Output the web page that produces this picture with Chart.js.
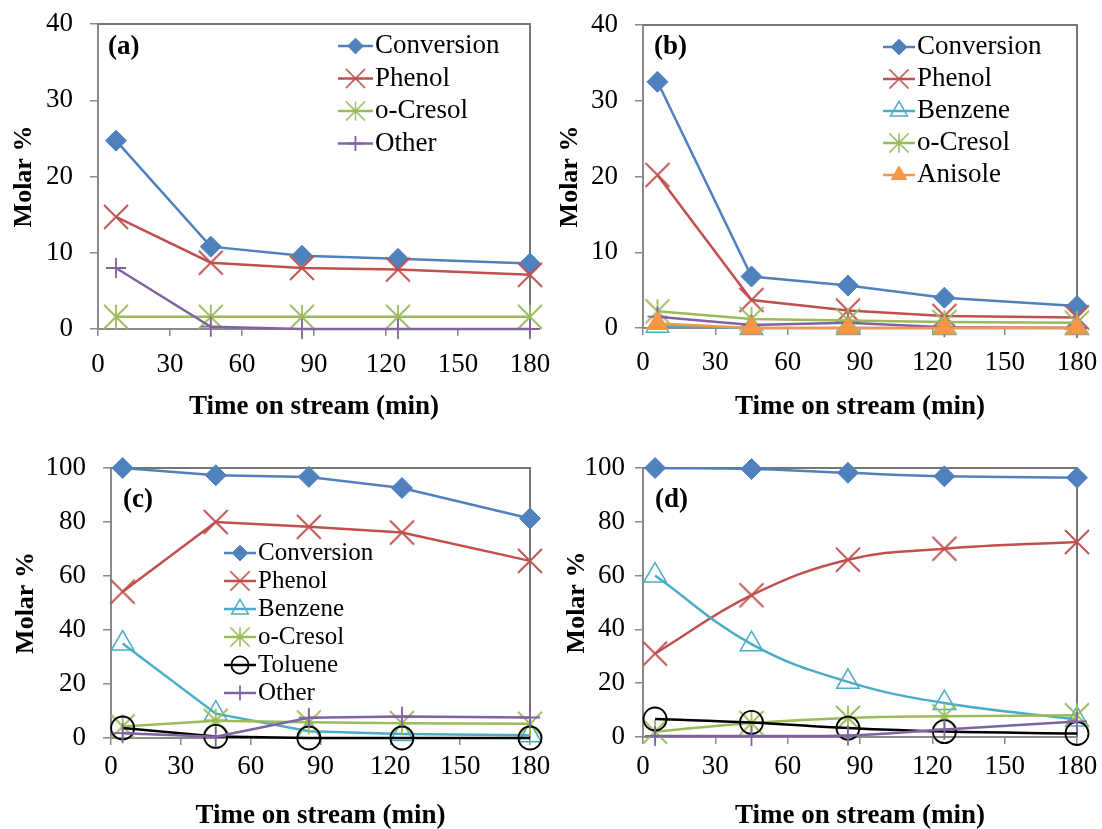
<!DOCTYPE html>
<html>
<head>
<meta charset="utf-8">
<title>Molar % vs time on stream</title>
<script src="https://cdn.jsdelivr.net/npm/chart.js@4.4.1/dist/chart.umd.min.js"></script>
<style>
  html, body { margin: 0; padding: 0; background: #fff; }
  #wrap { position: relative; width: 1102px; height: 829px; overflow: hidden; }
  #wrap canvas { position: absolute; }
</style>
</head>
<body>
<div id="wrap">
  <canvas id="chartA" width="551" height="420" style="left:0;top:0"></canvas>
  <canvas id="chartB" width="551" height="420" style="left:551px;top:0"></canvas>
  <canvas id="chartC" width="551" height="409" style="left:0;top:420px"></canvas>
  <canvas id="chartD" width="551" height="409" style="left:551px;top:420px"></canvas>
</div>
<script>
// ---- data: time on stream (min) and molar % per product ----
const timeA    = [7.5, 47, 85, 125, 180];
const convA    = [24.7, 10.8, 9.6, 9.2, 8.6];
const phenolA  = [14.7, 8.7, 8.0, 7.8, 7.1];
const cresolA  = [1.6, 1.6, 1.6, 1.6, 1.6];
const otherA   = [8.0, 0.3, 0, 0, 0];

const timeB    = [6, 45, 85, 125, 180];
const convB    = [32.5, 6.8, 5.6, 4.0, 2.9];
const phenolB  = [20.2, 3.7, 2.3, 1.6, 1.4];
const benzeneB = [0.3, 0, 0, 0, 0];
const cresolB  = [2.2, 1.2, 1.0, 0.8, 0.7];
const anisoleB = [0.6, 0, 0, 0, 0];
const otherB   = [1.5, 0.4, 0.7, 0.1, 0];

const timeC    = [5, 45, 85, 125, 180];
const convC    = [100, 97.3, 96.7, 92.6, 81.3];
const phenolC  = [54.2, 80.0, 78.2, 76.1, 65.6];
const benzeneC = [35, 9, 2.5, 1.5, 1.0];
const cresolC  = [4.3, 6.4, 5.8, 5.5, 5.3];
const tolueneC = [3.7, 0.6, 0, 0, 0];
const otherC   = [1.8, 0.5, 7.5, 8.0, 7.6];

const timeD    = [5, 45, 85, 125, 180];
const convD    = [100, 99.6, 98.2, 96.9, 96.4];
const phenolD  = [31, 52.7, 65.9, 70, 72.5];
const benzeneD = [60, 34.5, 20.5, 12.6, 6.5];
const cresolD  = [2.0, 5.2, 7.1, 7.7, 8.1];
const tolueneD = [6.7, 5.4, 3.3, 2.0, 1.3];
const otherD   = [0.4, 0.4, 0.6, 2.8, 5.8];

const xTicks = { min: 0, max: 180, step: 30 };

Chart.defaults.font.family = '"Liberation Serif", "Times New Roman", serif';
Chart.defaults.color = '#000';

// X and asterisk markers drawn once into small canvases
function lineMarker(color, half, withBar) {
    const c = document.createElement('canvas');
    const s = Math.ceil(half * 2 + 4);
    c.width = s; c.height = s;
    const g = c.getContext('2d');
    const m = s / 2;
    g.strokeStyle = color;
    g.lineWidth = 1.8;
    g.beginPath();
    g.moveTo(m - half, m - half); g.lineTo(m + half, m + half);
    g.moveTo(m + half, m - half); g.lineTo(m - half, m + half);
    if (withBar) { g.moveTo(m, m - half); g.lineTo(m, m + half); }
    g.stroke();
    return c;
}

const STYLE = {
    'Conversion': { color: '#4F81BD', marker: 'rectRot',  radius: 10.5, fill: '#4F81BD', bw: 1 },
    'Phenol':     { color: '#C0504D', marker: lineMarker('#C0504D', 12, false), radius: 12, fill: '#C0504D', bw: 1 },
    'Benzene':    { color: '#4BACC6', marker: 'triangle', radius: 13, fill: 'rgba(255,255,255,0)', bw: 1.5 },
    'o-Cresol':   { color: '#9BBB59', marker: lineMarker('#9BBB59', 12, true), radius: 12, fill: '#9BBB59', bw: 1 },
    'Toluene':    { color: '#000000', marker: 'circle',   radius: 11.5, fill: 'rgba(255,255,255,0)', bw: 1.8 },
    'Other':      { color: '#8064A2', marker: 'cross',    radius: 10, fill: '#8064A2', bw: 1.8 },
    'Anisole':    { color: '#F79646', marker: 'triangle', radius: 12, fill: '#F79646', bw: 1 }
};

function buildDatasets(time, series, smooth) {
    return series.map(function(s, i) {
        const st = STYLE[s.name];
        return {
            label: s.name,
            data: time.map(function(t, k) { return { x: t, y: s.values[k] }; }),
            borderColor: st.color,
            backgroundColor: st.fill,
            borderWidth: 2.5,
            pointStyle: st.marker,
            pointRadius: st.radius,
            pointHoverRadius: st.radius,
            pointBorderColor: st.color,
            pointBackgroundColor: st.fill,
            pointBorderWidth: st.bw,
            tension: smooth ? 0.4 : 0,
            clip: false,
            order: -i,            // later series painted on top
            inLegend: s.legend !== false
        };
    });
}

// frame, panel letter and the line+marker legend
const panelPlugin = {
    id: 'panel',
    beforeDatasetsDraw: function(chart) {
        const a = chart.chartArea, ctx = chart.ctx;
        ctx.save();
        ctx.strokeStyle = '#767676';
        ctx.lineWidth = 2;
        ctx.beginPath();
        ctx.moveTo(a.left, a.top);
        ctx.lineTo(a.right, a.top);
        ctx.lineTo(a.right, a.bottom);
        ctx.stroke();
        ctx.restore();
    },
    afterDatasetsDraw: function(chart, args, opts) {
        const ctx = chart.ctx;
        ctx.save();
        ctx.fillStyle = '#000';
        ctx.textBaseline = 'middle';
        ctx.textAlign = 'left';
        ctx.font = 'bold 27px "Liberation Serif", serif';
        ctx.fillText(opts.label.text, opts.label.x, opts.label.y);

        const leg = opts.legend;
        if (leg) {
            const items = chart.data.datasets.filter(function(d) { return d.inLegend; });
            items.forEach(function(ds, i) {
                const y = leg.y + i * leg.step;
                const cx = (leg.x0 + leg.x1) / 2;
                ctx.strokeStyle = ds.borderColor;
                ctx.lineWidth = 2.5;
                ctx.beginPath();
                ctx.moveTo(leg.x0, y);
                ctx.lineTo(leg.x1, y);
                ctx.stroke();
                if (typeof ds.pointStyle === 'string') {
                    ctx.fillStyle = ds.pointBackgroundColor;
                    ctx.strokeStyle = ds.pointBorderColor;
                    ctx.lineWidth = ds.pointBorderWidth;
                    Chart.helpers.drawPoint(ctx, {
                        pointStyle: ds.pointStyle,
                        radius: ds.pointRadius * 0.75,
                        borderWidth: ds.pointBorderWidth,
                        rotation: 0
                    }, cx, y);
                } else {
                    const img = ds.pointStyle, k = 0.8;
                    ctx.drawImage(img, cx - img.width * k / 2, y - img.height * k / 2,
                                  img.width * k, img.height * k);
                }
                ctx.fillStyle = '#000';
                ctx.font = leg.size + 'px "Liberation Serif", serif';
                ctx.fillText(ds.label, leg.textX, y);
            });
        }
        ctx.restore();
    }
};

function makePanel(id, p) {
    const canvas = document.getElementById(id);
    const W = canvas.width, H = canvas.height;
    const axisGray = '#8a8a8a';
    return new Chart(canvas, {
        type: 'line',
        data: { datasets: buildDatasets(p.time, p.series, p.smooth) },
        options: {
            responsive: false,
            animation: false,
            events: [],
            layout: { padding: { left: 0, top: p.area.top, right: W - p.area.right, bottom: 0 } },
            plugins: {
                legend: { display: false },
                tooltip: { enabled: false },
                panel: { label: p.label, legend: p.legend }
            },
            scales: {
                x: {
                    type: 'linear',
                    min: xTicks.min,
                    max: xTicks.max,
                    ticks: { stepSize: xTicks.step, padding: p.xTickPad, maxRotation: 0, font: { size: 27 } },
                    grid: { drawOnChartArea: false, drawTicks: true, tickLength: 7, color: axisGray, lineWidth: 1.5 },
                    border: { color: axisGray, width: 2 },
                    title: {
                        display: true,
                        text: 'Time on stream (min)',
                        font: { size: 27, weight: 'bold' },
                        padding: { top: 0, bottom: -3 }
                    },
                    afterFit: function(scale) {
                        // keep the plot box exactly where the layout padding puts it
                        scale.height = H - p.area.bottom;
                        scale.paddingLeft = 0;
                        scale.paddingRight = 0;
                    }
                },
                y: {
                    type: 'linear',
                    min: 0,
                    max: p.yMax,
                    ticks: { stepSize: p.yStep, padding: p.yTickPad, font: { size: 27 } },
                    grid: { drawOnChartArea: false, drawTicks: true, tickLength: 8, color: axisGray, lineWidth: 1.5 },
                    border: { color: axisGray, width: 2 },
                    title: {
                        display: true,
                        text: 'Molar %',
                        font: { size: 26, weight: 'bold' },
                        padding: { top: p.yTitlePad, bottom: 0 }
                    },
                    afterFit: function(scale) {
                        scale.width = p.area.left;
                        scale.paddingTop = 0;
                        scale.paddingBottom = 0;
                    }
                }
            }
        },
        plugins: [panelPlugin]
    });
}

makePanel('chartA', {
    time: timeA,
    series: [
        { name: 'Conversion', values: convA },
        { name: 'Phenol', values: phenolA },
        { name: 'o-Cresol', values: cresolA },
        { name: 'Other', values: otherA }
    ],
    area: { left: 98, top: 24, right: 530, bottom: 329 },
    yMax: 40, yStep: 10, yTickPad: 17, yTitlePad: 9, xTickPad: 13,
    label: { text: '(a)', x: 108, y: 47 },
    legend: { x0: 338, x1: 373, textX: 375, y: 46, step: 32.5, size: 27 }
});

makePanel('chartB', {
    time: timeB,
    series: [
        { name: 'Conversion', values: convB },
        { name: 'Phenol', values: phenolB },
        { name: 'Benzene', values: benzeneB },
        { name: 'o-Cresol', values: cresolB },
        { name: 'Other', values: otherB, legend: false },
        { name: 'Anisole', values: anisoleB }
    ],
    area: { left: 92, top: 25, right: 526, bottom: 328 },
    yMax: 40, yStep: 10, yTickPad: 17, yTitlePad: 4, xTickPad: 12,
    label: { text: '(b)', x: 103, y: 47 },
    legend: { x0: 332, x1: 364, textX: 366, y: 47, step: 32, size: 27 }
});

makePanel('chartC', {
    time: timeC,
    series: [
        { name: 'Conversion', values: convC },
        { name: 'Phenol', values: phenolC },
        { name: 'Benzene', values: benzeneC },
        { name: 'o-Cresol', values: cresolC },
        { name: 'Toluene', values: tolueneC },
        { name: 'Other', values: otherC }
    ],
    area: { left: 111, top: 48, right: 530, bottom: 318 },
    yMax: 100, yStep: 20, yTickPad: 17, yTitlePad: 11, xTickPad: 6,
    label: { text: '(c)', x: 123, y: 80 },
    legend: { x0: 224, x1: 256, textX: 258, y: 133, step: 28, size: 25 }
});

makePanel('chartD', {
    time: timeD,
    smooth: true,
    series: [
        { name: 'Conversion', values: convD },
        { name: 'Phenol', values: phenolD },
        { name: 'Benzene', values: benzeneD },
        { name: 'o-Cresol', values: cresolD },
        { name: 'Toluene', values: tolueneD },
        { name: 'Other', values: otherD }
    ],
    area: { left: 92, top: 48, right: 526, bottom: 317 },
    yMax: 100, yStep: 20, yTickPad: 10, yTitlePad: 11, xTickPad: 7,
    label: { text: '(d)', x: 104, y: 80 },
    legend: null
});
</script>
</body>
</html>
